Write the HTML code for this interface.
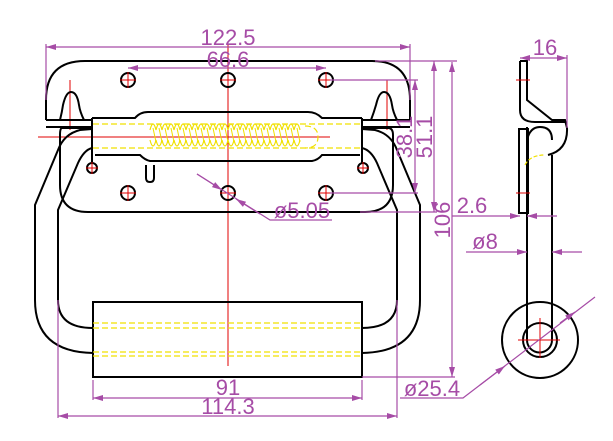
<!DOCTYPE html>
<html><head><style>
body{margin:0;background:#fff;}
svg{display:block;}
text{font-family:"Liberation Sans",sans-serif;fill:#a64ca6;font-size:22px;}
</style></head><body>
<svg width="613" height="441" viewBox="0 0 613 441" xmlns="http://www.w3.org/2000/svg">
<defs>
<marker id="a" viewBox="0 0 10 6" refX="10" refY="3" markerWidth="14" markerHeight="6" orient="auto-start-reverse" markerUnits="userSpaceOnUse"><path d="M0,0L10,3L0,6z" fill="#a64ca6"/></marker>
</defs>
<g stroke="#e00000" stroke-width="1">
<line x1="228" y1="44" x2="228" y2="366"/>
<line x1="38" y1="137" x2="330" y2="137"/>
<line x1="70" y1="80" x2="70" y2="130"/><line x1="387" y1="80" x2="387" y2="130"/>
</g>
<g fill="none" stroke="#000" stroke-width="2">
<path d="M46,120 L46,100 Q46,61 85,61 L372,61 Q410,61 410,100 L410,120"/>
<path d="M46,120 L92,120 M362,120 L410,120 M46,127 L92,127 M362,127 L410,127"/>
<path d="M60,120 Q62,112 63,105 Q66,92 71,92 Q77,92 79,105 Q80,112 84,120"/>
<path d="M371,120 Q374,112 376,105 Q379,92 384,92 Q390,92 392,105 Q393,112 397,120"/>
<path d="M92,128 L62,128 Q60,128 60,135 L60,185 Q60,212 88,212 L365,212 Q393,212 393,185 L393,135 Q393,128 388,128 L362,128"/>
<path d="M92,118 L92,163 M362,118 L362,163 M92,118 L135,118 Q140,112 148,112 L308,112 Q316,112 322,118 L362,118"/>
<path d="M95,155 L140,155 Q145,160 150,161 L312,161 Q318,160 322,155 L360,155"/>
<path d="M146,165 L146,178 Q146,182 150,182 Q154,182 154,178 L154,165"/>
<circle cx="128" cy="80" r="7"/><circle cx="228" cy="80" r="7"/><circle cx="326" cy="80" r="7"/>
<circle cx="128" cy="193" r="7"/><circle cx="228" cy="193" r="7"/><circle cx="326" cy="193" r="7"/>
<circle cx="92" cy="168" r="5"/><circle cx="363" cy="168" r="5"/>
<path d="M93,353 Q35,352 35,300 L35,205 L58,150 Q64,134 80,130 L92,129"/>
<path d="M93,328 Q58,328 58,300 L58,210 L78,163 Q84,150 92,148"/>
<path d="M362,353 Q420,352 420,300 L420,205 L397,150 Q391,134 375,130 L362,129"/>
<path d="M362,328 Q397,328 397,300 L397,210 L377,163 Q371,150 362,148"/>
<rect x="93" y="302" width="269" height="75"/>
</g>
<g stroke="#e00000" stroke-width="1">
<path d="M120,80h16M128,72v16M220,80h16M318,80h16M326,72v16M120,193h16M128,185v16M220,193h16M318,193h16M326,185v16M86,168h12M92,162v12M357,168h12M363,162v12"/>
</g>
<g stroke="#f0e000" stroke-width="1.2" fill="none" stroke-dasharray="6,3">
<line x1="93" y1="124" x2="362" y2="124"/><line x1="93" y1="148" x2="362" y2="148"/>
<line x1="93" y1="323" x2="362" y2="323"/><line x1="93" y1="328" x2="362" y2="328"/>
<line x1="93" y1="352" x2="362" y2="352"/><line x1="93" y1="356" x2="362" y2="356"/>
<path d="M305,126 Q318,126 318,137 Q318,148 305,148"/>
</g>
<path d="M150,130 q3,-12 6,0 q3,-12 6,0 q3,-12 6,0 q3,-12 6,0 q3,-12 6,0 q3,-12 6,0 q3,-12 6,0 q3,-12 6,0 q3,-12 6,0 q3,-12 6,0 q3,-12 6,0 q3,-12 6,0 q3,-12 6,0 q3,-12 6,0 q3,-12 6,0 q3,-12 6,0 q3,-12 6,0 q3,-12 6,0 q3,-12 6,0 q3,-12 6,0 q3,-12 6,0 q3,-12 6,0 q3,-12 6,0 q3,-12 6,0 q3,-12 6,0 M150,140 q3,12 6,0 q3,12 6,0 q3,12 6,0 q3,12 6,0 q3,12 6,0 q3,12 6,0 q3,12 6,0 q3,12 6,0 q3,12 6,0 q3,12 6,0 q3,12 6,0 q3,12 6,0 q3,12 6,0 q3,12 6,0 q3,12 6,0 q3,12 6,0 q3,12 6,0 q3,12 6,0 q3,12 6,0 q3,12 6,0 q3,12 6,0 q3,12 6,0 q3,12 6,0 q3,12 6,0 q3,12 6,0" stroke="#f0e000" fill="none" stroke-width="1.2"/>
<g stroke="#f0e000" stroke-width="1"><path d="M153,128 L156,142 M159,128 L162,142 M165,128 L168,142 M171,128 L174,142 M177,128 L180,142 M183,128 L186,142 M189,128 L192,142 M195,128 L198,142 M201,128 L204,142 M207,128 L210,142 M213,128 L216,142 M219,128 L222,142 M225,128 L228,142 M231,128 L234,142 M237,128 L240,142 M243,128 L246,142 M249,128 L252,142 M255,128 L258,142 M261,128 L264,142 M267,128 L270,142 M273,128 L276,142 M279,128 L282,142 M285,128 L288,142 M291,128 L294,142 M297,128 L300,142"/></g>
<g fill="none" stroke="#000" stroke-width="2">
<path d="M520,61 L527,61 L527,100 L552,120 L565,120 L567,128 Q568,150 548,155"/>
<path d="M520,61 L520,110 Q520,122 535,122 L565,122"/>
<path d="M527,127 L527,340 M552,155 L552,340 M527,340 A12.5,12.5 0 0 0 552,340 M527,140 Q530,127 540,127 Q552,127 552,140"/>
<rect x="519" y="129" width="9" height="84"/>
<circle cx="540" cy="340" r="38"/>
<circle cx="540" cy="340" r="17"/>
</g>
<path d="M525,165 Q530,155 545,155" stroke="#f0e000" fill="none" stroke-width="1.2" stroke-dasharray="4,2"/>
<g stroke="#e00000" stroke-width="1"><path d="M516,80h14M516,193h14M518,340h42M540,318v40"/></g>
<g stroke="#a64ca6" stroke-width="1.2" fill="none">
<line x1="46" y1="47" x2="410" y2="47" marker-start="url(#a)" marker-end="url(#a)"/>
<line x1="46" y1="44" x2="46" y2="100"/><line x1="410" y1="44" x2="410" y2="100"/>
<line x1="128" y1="68" x2="326" y2="68" marker-start="url(#a)" marker-end="url(#a)"/>
<line x1="330" y1="80" x2="418" y2="80"/><line x1="330" y1="193" x2="418" y2="193"/>
<line x1="415" y1="80" x2="415" y2="193" marker-start="url(#a)" marker-end="url(#a)"/>
<line x1="375" y1="61" x2="457" y2="61"/><line x1="360" y1="212" x2="437" y2="212"/>
<line x1="434" y1="61" x2="434" y2="212" marker-start="url(#a)" marker-end="url(#a)"/>
<line x1="452" y1="62" x2="452" y2="377" marker-start="url(#a)" marker-end="url(#a)"/>
<line x1="362" y1="377" x2="455" y2="377"/>
<line x1="93" y1="380" x2="93" y2="400"/><line x1="362" y1="380" x2="362" y2="400"/>
<line x1="93" y1="398" x2="362" y2="398" marker-start="url(#a)" marker-end="url(#a)"/>
<line x1="58" y1="300" x2="58" y2="418"/><line x1="397" y1="300" x2="397" y2="418"/>
<line x1="58" y1="416" x2="397" y2="416" marker-start="url(#a)" marker-end="url(#a)"/>
<polyline points="197,174 270,220 332,220"/>
<line x1="197" y1="174" x2="222" y2="190" marker-end="url(#a)"/>
<line x1="236" y1="199" x2="260" y2="214" marker-start="url(#a)"/>
<polyline points="400,398 463,398 595,297"/>
<line x1="505" y1="366" x2="480" y2="385" marker-start="url(#a)"/>
<line x1="575" y1="312" x2="560" y2="323" marker-start="url(#a)"/>
<line x1="520" y1="58" x2="567" y2="58" marker-start="url(#a)" marker-end="url(#a)"/>
<line x1="567" y1="55" x2="567" y2="128"/>
<line x1="452" y1="216" x2="520" y2="216" marker-end="url(#a)"/>
<line x1="527" y1="216" x2="557" y2="216" marker-start="url(#a)"/>
<line x1="466" y1="252" x2="527" y2="252" marker-end="url(#a)"/>
<line x1="552" y1="252" x2="582" y2="252" marker-start="url(#a)"/>
</g>
<g>
<text x="228" y="45" text-anchor="middle">122.5</text>
<text x="228" y="67" text-anchor="middle">66.6</text>
<text x="302" y="218" text-anchor="middle">ø5.05</text>
<text x="228" y="395" text-anchor="middle">91</text>
<text x="228" y="414" text-anchor="middle">114.3</text>
<text x="432" y="396" text-anchor="middle">ø25.4</text>
<text x="545" y="55" text-anchor="middle">16</text>
<text x="472" y="213" text-anchor="middle">2.6</text>
<text x="485" y="249" text-anchor="middle">ø8</text>
<text transform="translate(412,137) rotate(-90)" text-anchor="middle">38.1</text>
<text transform="translate(432,137) rotate(-90)" text-anchor="middle">51.1</text>
<text transform="translate(450,220) rotate(-90)" text-anchor="middle">106</text>
</g>
</svg>
</body></html>
